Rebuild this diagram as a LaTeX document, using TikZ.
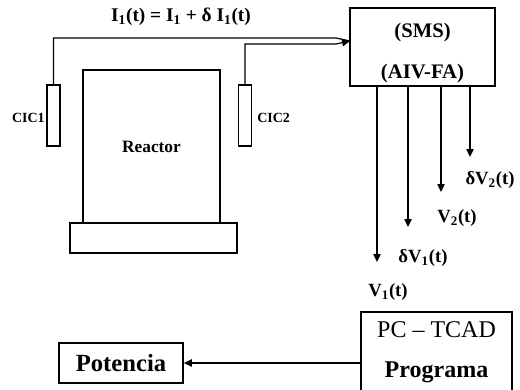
\documentclass[tikz,border=0pt]{standalone}
\usepackage{fontspec}
\setmainfont{Liberation Serif}
\usetikzlibrary{arrows.meta}
\begin{document}
\begin{tikzpicture}[x=0.75pt,y=-0.75pt,
  box/.style={draw,line width=1.2pt,inner sep=0pt,align=center},
  lbl/.style={font=\bfseries\fontsize{14}{16}\selectfont,inner sep=0pt},
  tip/.style={-{Triangle[length=6pt,width=5.5pt]},line width=0.9pt}]
\useasboundingbox (0,0) rectangle (520,389);
\clip (0,0) rectangle (520,389);
% reactor and chambers
\node[box,minimum width=102.75pt,minimum height=114.75pt,font=\bfseries\fontsize{13}{15}\selectfont] (reac) at (151.5,146.5) {Reactor};
\node[box,minimum width=125.25pt,minimum height=22.5pt] (base) at (153.5,238) {};
\node[box,minimum width=9.75pt,minimum height=45.75pt] (cic1) at (53.5,115.5) {};
\node[box,minimum width=9.75pt,minimum height=45.75pt] (cic2) at (245,115.5) {};
\node[font=\bfseries\fontsize{10.5}{12}\selectfont,inner sep=0pt,anchor=east] (l1) at (45,118) {CIC1};
\node[font=\bfseries\fontsize{10.5}{12}\selectfont,inner sep=0pt,anchor=west] (l2) at (257,118) {CIC2};
% blocks
\node[box,minimum width=108.75pt,minimum height=58.5pt,font=\bfseries\fontsize{15.5}{19}\selectfont] (sms) at (422.5,47) {\rule{0pt}{20pt}(SMS)\\[12pt](AIV-FA)};
\node[box,minimum width=113.25pt,minimum height=60pt,font=\fontsize{18}{21}\selectfont] (pc) at (436.5,352) {PC -- TCAD\\[9pt]\textbf{Programa}};
\node[box,minimum width=93pt,minimum height=30pt,font=\bfseries\fontsize{18.5}{21}\selectfont] (pot) at (121,363) {Potencia};
\node[lbl,font=\bfseries\fontsize{14.5}{17}\selectfont] (ieq) at (181,17) {I\textsubscript{1}(t) = I\textsubscript{1} + δ I\textsubscript{1}(t)};
% wires to SMS
\coordinate (k1) at (336,38);
\coordinate (k2) at (336,44);
\coordinate (j) at (350,41);
\draw[line width=0.9pt] (cic1.north) |- (k1) -- (j);
\draw[tip] (cic2.north) |- (k2) -- (j);
% signals
\coordinate (t1) at (377,262);
\coordinate (t2) at (408,227);
\coordinate (t3) at (441,192);
\coordinate (t4) at (470,157);
\foreach \t in {t1,t2,t3,t4} \draw[tip] (sms.south -| \t) -- (\t);
\node[lbl] (dv2) at (490,180) {δV\textsubscript{2}(t)};
\node[lbl] (v2) at (457,218) {V\textsubscript{2}(t)};
\node[lbl] (dv1) at (423,258) {δV\textsubscript{1}(t)};
\node[lbl] (v1) at (388,292) {V\textsubscript{1}(t)};
\draw[tip] (pc.west |- pot) -- (pot);
\end{tikzpicture}
\end{document}
